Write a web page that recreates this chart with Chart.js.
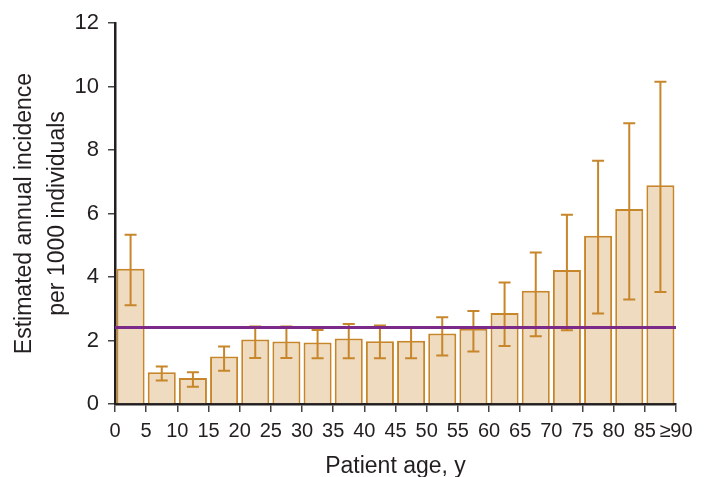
<!DOCTYPE html>
<html>
<head>
<meta charset="utf-8">
<script src="https://cdn.jsdelivr.net/npm/chart.js@4"></script>
<style>
  body { margin: 0; background: #fff; }
  #wrap { width: 707px; height: 477px; }
</style>
</head>
<body>
<div id="wrap"><canvas id="myChart"></canvas></div>
<script>
// age bins (start of each 5-year band)
var binStart = [0, 5, 10, 15, 20, 25, 30, 35, 40, 45, 50, 55, 60, 65, 70, 75, 80, 85];
var incidence = [4.26, 1.0, 0.82, 1.5, 2.03, 1.97, 1.94, 2.06, 1.98, 1.99, 2.22, 2.37, 2.87, 3.57, 4.22, 5.3, 6.14, 6.89];
var errHigh = [5.33, 1.18, 1.0, 1.81, 2.44, 2.44, 2.33, 2.52, 2.47, 2.4, 2.73, 2.93, 3.83, 4.77, 5.96, 7.66, 8.84, 10.15];
var errLow = [3.11, 0.74, 0.54, 1.05, 1.45, 1.45, 1.44, 1.44, 1.44, 1.44, 1.53, 1.65, 1.83, 2.13, 2.32, 2.85, 3.29, 3.53];
var overallRate = 2.41;
var xTickLabels = ["0", "5", "10", "15", "20", "25", "30", "35", "40", "45", "50", "55", "60", "65", "70", "75", "80", "85", "≥90"];

var orange = "#c8862a";
var fontFam = "'Liberation Sans', Arial, Helvetica, sans-serif";

var barPoints = binStart.map(function (s, i) { return { x: s + 2.5, y: incidence[i] }; });

// whiskers drawn right after the bars, before the overall-rate line
var errorBars = {
  id: "errorBars",
  afterDatasetDraw: function (chart, args) {
    if (args.index !== 0) return;
    var ctx = chart.ctx;
    var xs = chart.scales.x, ys = chart.scales.y;
    ctx.save();
    ctx.strokeStyle = orange;
    ctx.lineWidth = 2;
    for (var i = 0; i < binStart.length; i++) {
      var px = xs.getPixelForValue(binStart[i] + 2.5);
      var top = ys.getPixelForValue(errHigh[i]);
      var bot = ys.getPixelForValue(errLow[i]);
      ctx.beginPath();
      ctx.moveTo(px, top); ctx.lineTo(px, bot);
      ctx.moveTo(px - 6, top); ctx.lineTo(px + 6, top);
      ctx.moveTo(px - 6, bot); ctx.lineTo(px + 6, bot);
      ctx.stroke();
    }
    ctx.restore();
  }
};

new Chart("myChart", {
  type: "bar",
  data: {
    datasets: [{
      type: "bar",
      data: barPoints,
      backgroundColor: "#efdbc0",
      borderColor: orange,
      borderWidth: 2,
      barPercentage: 1,
      categoryPercentage: 0.9,
      order: 1
    }, {
      type: "line",
      data: [{ x: 0, y: overallRate }, { x: 90, y: overallRate }],
      borderColor: "#7b2a8a",
      borderWidth: 3,
      pointRadius: 0,
      order: 0
    }]
  },
  options: {
    responsive: true,
    maintainAspectRatio: false,
    animation: false,
    layout: { padding: { top: 23, right: 31, left: 0, bottom: 0 } },
    plugins: { legend: { display: false }, tooltip: { enabled: false } },
    scales: {
      x: {
        type: "linear",
        min: 0, max: 90,
        offset: false,
        afterFit: function (s) { s.height = 73; },
        grid: { offset: false, drawOnChartArea: false, drawTicks: true, tickLength: 8, color: "#444", lineWidth: 1.5 },
        border: { color: "#231f20", width: 2.5 },
        ticks: {
          stepSize: 5, autoSkip: false, maxRotation: 0, padding: 7,
          color: "#231f20",
          font: { family: fontFam, size: 20 },
          callback: function (v) { return xTickLabels[Math.round(v / 5)]; }
        },
        title: {
          display: true, text: "Patient age, y", color: "#231f20",
          font: { family: fontFam, size: 23 },
          padding: { top: 0, bottom: -3 }
        }
      },
      y: {
        min: 0, max: 12,
        afterFit: function (s) { s.width = 115; },
        grid: { drawOnChartArea: false, drawTicks: true, tickLength: 7, color: "#444", lineWidth: 1.5 },
        border: { color: "#231f20", width: 2.5 },
        ticks: {
          stepSize: 2, padding: 9, color: "#231f20",
          font: { family: fontFam, size: 22 }
        },
        title: {
          display: true,
          text: ["Estimated annual incidence", "per 1000 individuals"],
          color: "#231f20",
          font: { family: fontFam, size: 23, lineHeight: 1.4 },
          padding: { top: 9, bottom: 0 }
        }
      }
    }
  },
  plugins: [errorBars]
});
</script>
</body>
</html>
